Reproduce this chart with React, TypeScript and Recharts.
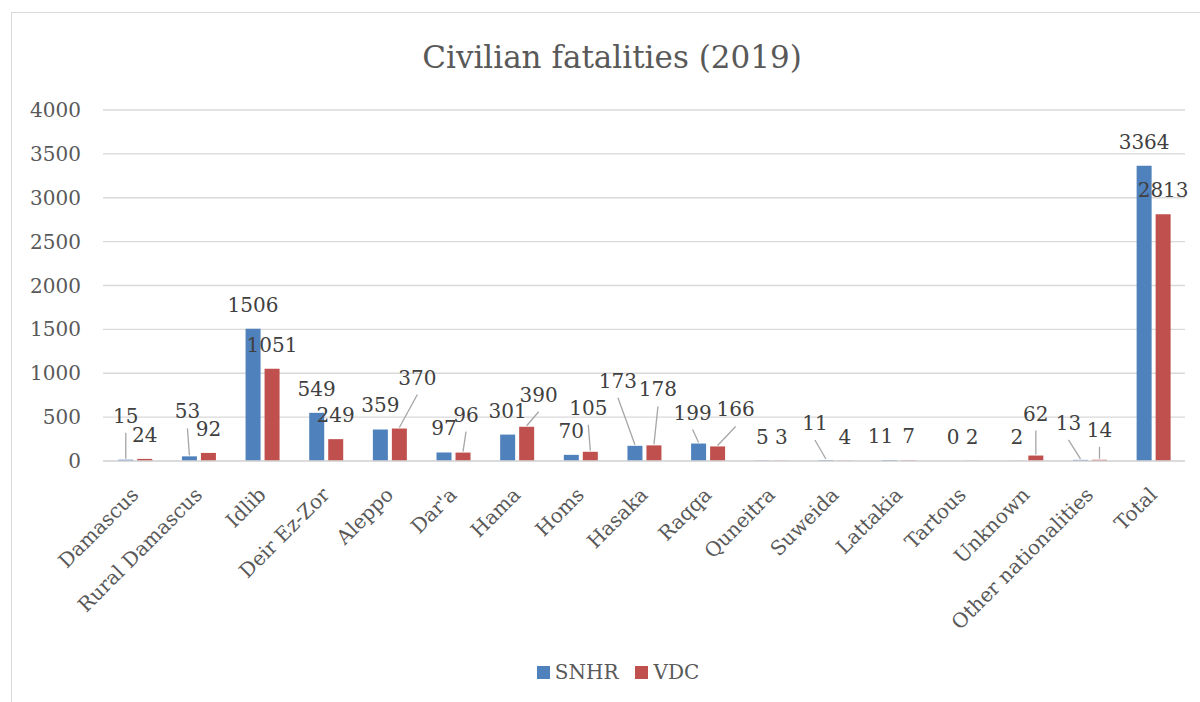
import { BarChart, Bar, CartesianGrid, XAxis, YAxis, Legend, LabelList } from 'recharts'

const regions = ['Damascus', 'Rural Damascus', 'Idlib', 'Deir Ez-Zor', 'Aleppo', "Dar'a", 'Hama', 'Homs', 'Hasaka', 'Raqqa', 'Quneitra', 'Suweida', 'Lattakia', 'Tartous', 'Unknown', 'Other nationalities', 'Total']
const snhr = [15, 53, 1506, 549, 359, 97, 301, 70, 173, 199, 5, 11, 11, 0, 2, 13, 3364]
const vdc = [24, 92, 1051, 249, 370, 96, 390, 105, 178, 166, 3, 4, 7, 2, 62, 14, 2813]
const yTicks = [0, 500, 1000, 1500, 2000, 2500, 3000, 3500, 4000]

const data = regions.map((region, i) => ({ region, SNHR: snhr[i], VDC: vdc[i] }))

const FONT = '"DejaVu Serif", serif'
const BLUE = '#4F81BD'
const RED = '#C0504D'
const W = 1200
const H = 702
const MARGIN = { top: 110, right: 15, bottom: 18, left: 13 }
const Y_AXIS_W = 90
const PLOT_LEFT = MARGIN.left + Y_AXIS_W
const BAND = (W - PLOT_LEFT - MARGIN.right) / regions.length

// labels that were dragged off the bar in the original, [dx, dy, leader line]
const snhrNudge: Record<number, [number, number, boolean]> = {
  0: [0, -20, true], 1: [-2, -21, true], 8: [-17, -41, true], 9: [-6, -7, true],
  11: [-11, -13, true], 12: [-9, 0, false], 15: [-12, -13, true],
}
const vdcNudge: Record<number, [number, number, boolean]> = {
  4: [18, -27, true], 5: [3, -14, true], 6: [12, -8, true], 7: [-2, -20, true],
  8: [4, -32, true], 9: [18, -13, true], 14: [0, -18, true], 15: [0, -6, true],
}

const valueText = (x: number, y: number, v: number) => (
  <text x={x} y={y} textAnchor="middle" fontFamily={FONT} fontSize={20} fill="#404040">{v}</text>
)

const makeLabel = (nudge: Record<number, [number, number, boolean]>, isVdc: boolean) => (props: any) => {
  const vb = props.viewBox ?? props
  const x = Number(vb.x ?? props.x)
  const y = Number(vb.y ?? props.y)
  const w = Number(vb.width ?? props.width)
  const h = Number(vb.height ?? props.height)
  const top = h < 0 ? y + h : y
  const base = top + Math.abs(h)
  const cx = x + w / 2
  const idx = Math.floor((cx - PLOT_LEFT) / BAND)
  const by = top - 17
  const [dx, dy, leader] = nudge[idx] ?? [0, 0, false]
  // a zero bar gets no label from the library, so its neighbour draws it
  const zeroSnhr = isVdc && snhr[idx] === 0
  return (
    <g>
      {leader && (
        <line x1={cx + dx} y1={by + dy + 10} x2={cx} y2={top - 1} stroke="#a6a6a6" strokeWidth={1.3} />
      )}
      {valueText(cx + dx, by + dy, props.value)}
      {zeroSnhr && valueText(cx - w - 4, base - 17, 0)}
    </g>
  )
}

const RegionTick = (props: any) => {
  const { x, y, payload } = props
  const px = x + 5
  const py = y + 27
  return (
    <text x={px} y={py} transform={`rotate(-45 ${px} ${py})`} textAnchor="end" fontFamily={FONT} fontSize={20} fill="#595959">
      {payload.value}
    </text>
  )
}

const LegendBox = () => (
  <div style={{ height: 24, display: 'flex', justifyContent: 'center', alignItems: 'center', paddingLeft: 38, fontFamily: FONT, fontSize: 20, color: '#595959' }}>
    <span style={{ width: 13, height: 13, background: BLUE, marginRight: 5 }} />
    <span style={{ marginRight: 17 }}>SNHR</span>
    <span style={{ width: 13, height: 13, background: RED, marginRight: 5 }} />
    <span>VDC</span>
  </div>
)

export default function App() {
  return (
    <div style={{ position: 'absolute', left: 0, top: 0, width: W, height: H, overflow: 'hidden', background: '#fff' }}>
      <div style={{ position: 'absolute', left: 11, top: 12, width: 1189, height: 690, borderLeft: '1.5px solid #d9d9d9', borderTop: '1.5px solid #d9d9d9' }} />
      <div style={{ position: 'absolute', left: 0, top: 39, width: 1224, textAlign: 'center', fontFamily: FONT, fontSize: 31, color: '#595959' }}>
        Civilian fatalities (2019)
      </div>
      <div style={{ position: 'absolute', left: 0, top: 0 }}>
        <BarChart width={W} height={H} data={data} margin={MARGIN} barCategoryGap="24%" barGap={4}>
          <CartesianGrid vertical={false} stroke="#d9d9d9" strokeWidth={1.3} />
          <XAxis dataKey="region" height={199} interval={0} tick={<RegionTick />} tickLine={false} axisLine={{ stroke: '#d9d9d9', strokeWidth: 1.3 }} />
          <YAxis width={Y_AXIS_W} domain={[0, 4000]} ticks={yTicks} tickLine={false} axisLine={false} tickSize={0} tickMargin={22} tick={{ fontFamily: FONT, fontSize: 20, fill: '#595959' }} />
          <Legend verticalAlign="bottom" height={24} content={<LegendBox />} />
          <Bar dataKey="SNHR" fill={BLUE} isAnimationActive={false}>
            <LabelList dataKey="SNHR" content={makeLabel(snhrNudge, false)} />
          </Bar>
          <Bar dataKey="VDC" fill={RED} isAnimationActive={false}>
            <LabelList dataKey="VDC" content={makeLabel(vdcNudge, true)} />
          </Bar>
        </BarChart>
      </div>
    </div>
  )
}
